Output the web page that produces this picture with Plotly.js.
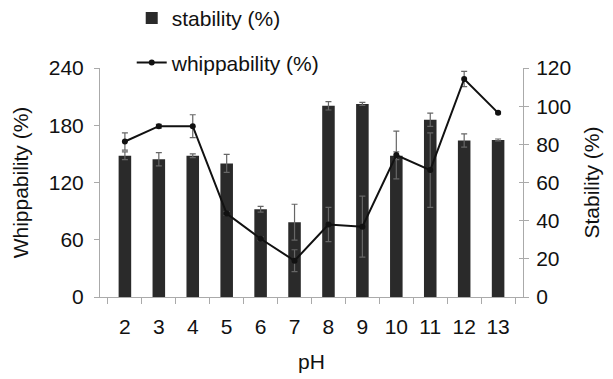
<!DOCTYPE html>
<html>
<head>
<meta charset="utf-8">
<script src="https://cdn.plot.ly/plotly-3.0.1.min.js"></script>
<style>html,body{margin:0;padding:0;background:#fff;}#chart{width:613px;height:379px;}</style>
</head>
<body>
<div id="chart"></div>
<script>
const pH = ['2','3','4','5','6','7','8','9','10','11','12','13'];
const stability = [74, 72.2, 74, 70, 46, 39.2, 100.2, 101.2, 74, 92.9, 82, 82.3];
const stabilityErr = [2, 3.5, 1, 4.7, 1.5, 9.4, 2.2, 0.8, 2, 3.5, 3.5, 0.5];
const whippability = [163, 179, 179, 87.5, 61, 38, 76, 73.7, 148.8, 133, 228.5, 193];
const whippabilityErr = [9, 2, 12, 2, 2, 11.5, 18, 32, 25, 39, 8, 1];

const font = {family: 'Liberation Sans, Arial, sans-serif', size: 21, color: '#111'};
const axisColor = '#aaa';

const traces = [
  {
    type: 'bar', name: 'stability (%)', x: pH, y: stability, yaxis: 'y',
    marker: {color: '#2a2a2a'},
    error_y: {type: 'data', array: stabilityErr, visible: true, color: '#666', thickness: 1.2, width: 3},
    legendgroup: 'a'
  },
  {
    type: 'scatter', mode: 'lines+markers', name: 'whippability (%)', x: pH, y: whippability, yaxis: 'y2',
    line: {color: '#111', width: 2},
    marker: {color: '#111', size: 6},
    error_y: {type: 'data', array: whippabilityErr, visible: true, color: '#666', thickness: 1.2, width: 3},
    legendgroup: 'b'
  },
  {type: 'scatter', x: pH, y: stability, yaxis: 'y3', mode: 'none', showlegend: false, hoverinfo: 'skip'}
];

const layout = {
  width: 613, height: 379,
  margin: {l: 100, r: 90, t: 68, b: 82, autoexpand: false},
  paper_bgcolor: '#fff', plot_bgcolor: '#fff',
  font: font,
  bargap: 0.63,
  showlegend: true,
  legend: {x: 0.075, y: 1.306, xanchor: 'left', yanchor: 'top', bgcolor: 'rgba(0,0,0,0)',
           tracegroupgap: 14, font: font, traceorder: 'grouped'},
  xaxis: {
    type: 'category', title: {text: 'pH', font: font, standoff: 17},
    showline: true, linecolor: axisColor, linewidth: 1,
    ticks: 'outside', ticklen: 6, tickcolor: axisColor, tickson: 'boundaries',
    ticklabelstandoff: 11,
    showgrid: false, zeroline: false, tickfont: font
  },
  yaxis: {
    range: [0, 120], dtick: 20, side: 'right',
    title: {text: 'Stability (%)', font: font, standoff: 14},
    showline: true, linecolor: axisColor, linewidth: 1,
    ticks: 'outside', ticklen: 5, tickcolor: axisColor, ticklabelstandoff: 3,
    showgrid: false, zeroline: false, tickfont: font
  },
  yaxis2: {
    range: [0, 240], dtick: 60, overlaying: 'y', side: 'left',
    title: {text: 'Whippability (%)', font: font, standoff: 14},
    showline: true, linecolor: axisColor, linewidth: 1,
    ticks: 'outside', ticklen: 5, tickcolor: axisColor, ticklabelstandoff: 6,
    showgrid: false, zeroline: false, tickfont: font
  },
  yaxis3: {
    range: [0, 120], dtick: 20, overlaying: 'y', side: 'right',
    showline: false, ticks: 'inside', ticklen: 4, tickcolor: axisColor,
    showticklabels: false, showgrid: false, zeroline: false
  }
};

Plotly.newPlot('chart', traces, layout, {displayModeBar: false, staticPlot: true});
</script>
</body>
</html>
